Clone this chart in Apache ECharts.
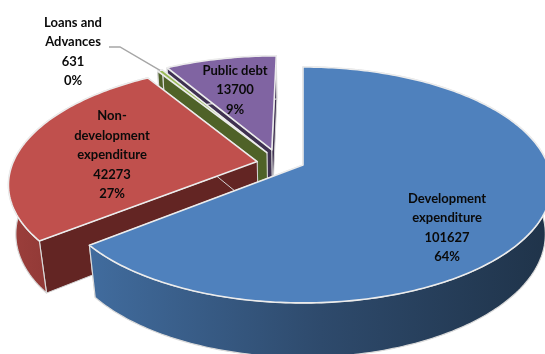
<!DOCTYPE html>
<html>
<head>
<meta charset="utf-8">
<style>html,body{margin:0;padding:0;background:#fff}#chart{width:545px;height:354px}</style>
<script src="https://cdn.jsdelivr.net/npm/echarts@6/dist/echarts.min.js"></script>
</head>
<body>
<div id="chart"></div>
<script>
// Budget heads, clockwise from twelve o'clock
const categories = ['Development\nexpenditure', 'Non-\ndevelopment\nexpenditure', 'Loans and\nAdvances', 'Public debt'];
const values = [101627, 42273, 631, 13700];

// Styling of each slice, same order as the categories
const topColors = ['#4f81bd', '#c0504d', '#9bbb59', '#8064a2'];
const cutColors = ['#3a5f8c', '#632523', '#4f6228', '#3f3151'];
const rimColors = [['#416c9e', '#2e4a6c', '#1f3349'], ['#9c3f3c', '#8a3532', '#7a2f2d'], ['#4f6228', '#4f6228', '#4f6228'], ['#3f3151', '#3f3151', '#3f3151']];
const explode = [[0, 0], [-0.188, 0.03], [-0.15, 0.11], [-0.13, 0.135]];
const paintOrder = [3, 2, 1, 0];
const labelAnchors = [[447, 228], [112, 155], [73, 52], [235, 90]];

// Projection of the tilted pie onto the page
const view = { cx: 303, cy: 165, rx: 245, ry: 114.6, persp: 0.169, sink: 0.025, depth: 50 };
const total = values.reduce((a, b) => a + b, 0);

function project(u, v, z) {
  const s = 1 / (1 + view.persp * v + view.sink * z);
  return [view.cx + view.rx * u * s, view.cy - view.ry * v * s + view.depth * z * s];
}

function onRim(deg, off, z) {
  const a = deg * Math.PI / 180;
  return project(Math.sin(a) + off[0], Math.cos(a) + off[1], z);
}

function sliceRange(i) {
  let start = 0;
  for (let k = 0; k < i; k++) start += values[k] / total * 360;
  return [start, start + values[i] / total * 360];
}

function arcPoints(a0, a1, off, z) {
  const pts = [];
  const n = Math.max(2, Math.ceil(Math.abs(a1 - a0)));
  for (let k = 0; k <= n; k++) pts.push(onRim(a0 + (a1 - a0) * k / n, off, z));
  return pts;
}

function renderSlice(params, api) {
  const i = api.value(1);
  const value = api.value(0);
  const [a0, a1] = sliceRange(i);
  const off = explode[i];
  const base = paintOrder.indexOf(i) * 10;
  const apexTop = project(off[0], off[1], 0);
  const apexLow = project(off[0], off[1], 1);
  const rimTop = arcPoints(a0, a1, off, 0);
  const rimLow = arcPoints(a0, a1, off, 1);
  const quad = (p, q, r, s) => [p, q, r, s];
  const children = [];
  const poly = (points, fill, stroke, width, z2) => children.push({
    type: 'polygon', shape: { points }, z2,
    style: { fill, stroke, lineWidth: width, lineJoin: 'round' }
  });
  // cut faces
  poly(quad(apexTop, rimTop[0], rimLow[0], apexLow), cutColors[i], '#d4d4d4', 1, base + 1);
  poly(quad(apexTop, rimTop[rimTop.length - 1], rimLow[rimLow.length - 1], apexLow), cutColors[i], '#d4d4d4', 1, base + 1);
  // outer wall, shaded from left to right
  const xs = rimTop.concat(rimLow).map(p => p[0]);
  const grad = new echarts.graphic.LinearGradient(0, 0, 1, 0, [
    { offset: 0, color: rimColors[i][0] },
    { offset: 0.5, color: rimColors[i][1] },
    { offset: 1, color: rimColors[i][2] }
  ]);
  poly(rimTop.concat(rimLow.slice().reverse()), grad, '#d9d9d9', 1.2, base + 2);
  // top surface
  poly([apexTop].concat(rimTop), topColors[i], '#ececec', 1.6, base + 3);
  // label text
  const pct = Math.round(value / total * 100);
  children.push({
    type: 'text', z2: 100,
    style: {
      text: categories[i] + '\n' + value + '\n' + pct + '%',
      x: labelAnchors[i][0], y: labelAnchors[i][1],
      textAlign: 'center', textVerticalAlign: 'middle',
      fontFamily: 'Lato', fontWeight: 700, fontSize: 13, lineHeight: 19.4, fill: '#0a0a0a'
    }
  });
  if (i === 2) {
    // leader line from the small slice to its label
    const end = onRim((a0 + a1) / 2, off, 0);
    children.push({
      type: 'polyline', z2: 90,
      shape: { points: [[109, 47], [120, 47], end] },
      style: { stroke: '#a6a6a6', lineWidth: 1.4, fill: null }
    });
  }
  return { type: 'group', children };
}

const chart = echarts.init(document.getElementById('chart'), null, { renderer: 'canvas' });
chart.setOption({
  animation: false,
  backgroundColor: '#ffffff',
  series: [{
    type: 'custom',
    coordinateSystem: 'none',
    renderItem: renderSlice,
    data: values.map((v, i) => [v, i])
  }]
});
</script>
</body>
</html>
